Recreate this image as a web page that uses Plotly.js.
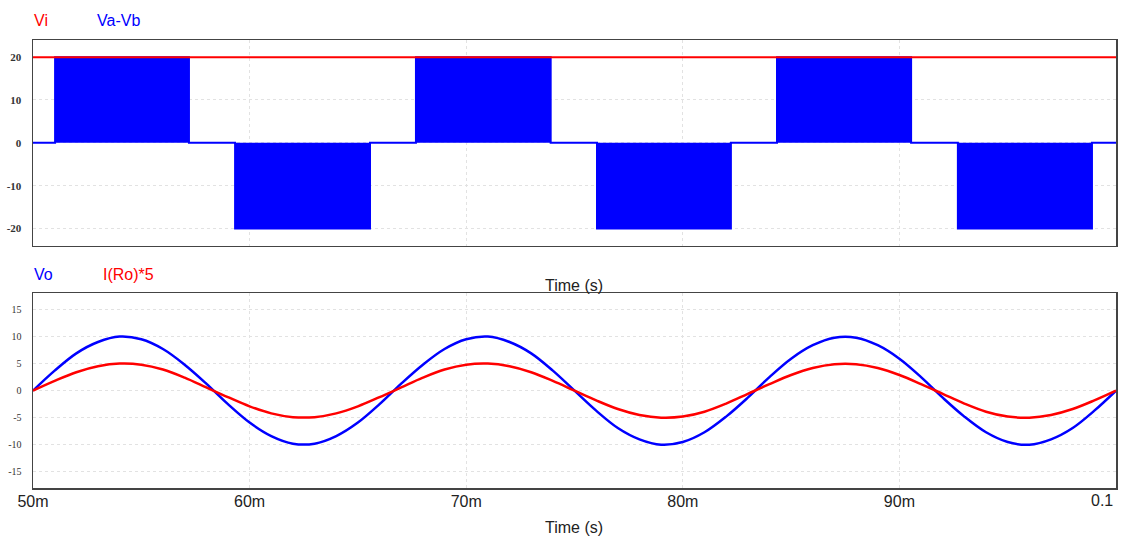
<!DOCTYPE html>
<html>
<head>
<meta charset="utf-8">
<script src="https://cdn.plot.ly/plotly-3.0.1.min.js"></script>
<style>html,body{margin:0;padding:0;background:#fff;}#chart{width:1121px;height:538px;}</style>
</head>
<body>
<div id="chart"></div>
<script>
// ---- Data (times in ms) ----
const viTime = [50, 100];
const viValue = [20, 20];

// Va-Vb PWM blocks: start/end times (ms) and pulse level (V)
const pwmStart = [51.02, 59.33, 67.68, 76.04, 84.35, 92.70];
const pwmEnd   = [57.20, 65.56, 73.90, 82.22, 90.54, 98.89];
const pwmLevel = [20, -20, 20, -20, 20, -20];

// Output waveforms sampled every 1 ms
const outTime = [50,51,52,53,54,55,56,57,58,59,60,61,62,63,64,65,66,67,68,69,70,71,72,73,74,75,
                 76,77,78,79,80,81,82,83,84,85,86,87,88,89,90,91,92,93,94,95,96,97,98,99,100];
const voValue = [0,3.7,6.9,9.0,10.0,9.5,7.7,4.8,1.3,-2.5,-5.9,-8.4,-9.8,-9.8,-8.4,-5.9,-2.5,1.3,4.8,7.7,9.5,10.0,9.0,6.9,3.7,0,
                 -3.7,-6.9,-9.0,-10.0,-9.5,-7.7,-4.8,-1.3,2.5,5.9,8.4,9.8,9.8,8.4,5.9,2.5,-1.3,-4.8,-7.7,-9.5,-10.0,-9.0,-6.9,-3.7,0];
const iroValue = [0,1.8,3.4,4.5,5.0,4.8,3.9,2.4,0.6,-1.2,-2.9,-4.2,-4.9,-4.9,-4.2,-2.9,-1.2,0.6,2.4,3.9,4.8,5.0,4.5,3.4,1.8,0,
                  -1.8,-3.4,-4.5,-5.0,-4.8,-3.9,-2.4,-0.6,1.2,2.9,4.2,4.9,4.9,4.2,2.9,1.2,-0.6,-2.4,-3.9,-4.8,-5.0,-4.5,-3.4,-1.8,0];

const xTickVals = [50, 60, 70, 80, 90, 100];
const xTickText = ['50m', '60m', '70m', '80m', '90m', ''];
const topYTicks = [-20, -10, 0, 10, 20];
const botYTicks = [-15, -10, -5, 0, 5, 10, 15];

// ---- Build PWM trace from blocks ----
const ms = v => v / 1000;
const pwmX = [ms(50)], pwmY = [0];
for (let i = 0; i < pwmStart.length; i++) {
  pwmX.push(ms(pwmStart[i]), ms(pwmStart[i]), ms(pwmEnd[i]), ms(pwmEnd[i]));
  pwmY.push(0, pwmLevel[i], pwmLevel[i], 0);
}
pwmX.push(ms(100)); pwmY.push(0);

const BLUE = '#0000ff', RED = '#ff0000';

const traces = [
  {x: pwmX, y: pwmY, xaxis: 'x2', yaxis: 'y2', type: 'scatter', mode: 'lines',
   fill: 'tozeroy', fillcolor: BLUE, line: {color: BLUE, width: 2}, hoverinfo: 'skip'},
  {x: viTime.map(ms), y: viValue, xaxis: 'x2', yaxis: 'y2', type: 'scatter', mode: 'lines',
   line: {color: RED, width: 2}},
  {x: outTime.map(ms), y: voValue, xaxis: 'x', yaxis: 'y', type: 'scatter', mode: 'lines',
   line: {color: BLUE, width: 2.5, shape: 'spline', smoothing: 1}},
  {x: outTime.map(ms), y: iroValue, xaxis: 'x', yaxis: 'y', type: 'scatter', mode: 'lines',
   line: {color: RED, width: 2.5, shape: 'spline', smoothing: 1}}
];

const gridCol = '#e2e2e2';
const lineCol = '#444444';
const commonX = {
  range: [0.05, 0.1], tickmode: 'array', tickvals: xTickVals.map(ms),
  showgrid: true, gridcolor: gridCol, griddash: 'dot', gridwidth: 1,
  showline: true, mirror: true, linecolor: lineCol, linewidth: 1.5,
  zeroline: false, ticks: '', automargin: false, fixedrange: true
};
const commonY = {
  tickmode: 'array', showgrid: true, gridcolor: gridCol, griddash: 'dot', gridwidth: 1,
  showline: true, mirror: true, linecolor: lineCol, linewidth: 1.5,
  zeroline: false, ticks: '', automargin: false, ticklabelstandoff: 8, fixedrange: true
};

const layout = {
  width: 1121, height: 538,
  margin: {l: 33, r: 5, t: 40, b: 50},
  paper_bgcolor: '#ffffff', plot_bgcolor: '#ffffff',
  showlegend: false,
  font: {family: '"Liberation Sans", Arial, sans-serif', color: '#222'},
  xaxis: Object.assign({}, commonX, {anchor: 'y', ticktext: xTickText, ticklabelstandoff: -2,
    tickfont: {family: '"Liberation Sans", Arial, sans-serif', size: 16, color: '#222'}}),
  yaxis: Object.assign({}, commonY, {domain: [0, 0.4346], range: [-18, 18], anchor: 'x',
    tickvals: botYTicks, ticktext: botYTicks.map(String),
    tickfont: {family: '"Liberation Serif", "Times New Roman", serif', size: 10, color: '#333'}}),
  xaxis2: Object.assign({}, commonX, {anchor: 'y2', showticklabels: false}),
  yaxis2: Object.assign({}, commonY, {domain: [0.541, 1], range: [-24, 24], anchor: 'x2',
    tickvals: topYTicks, ticktext: topYTicks.map(String),
    tickfont: {family: '"Liberation Serif", "Times New Roman", serif', size: 11, color: '#333', weight: 'bold'}}),
  annotations: [
    {text: 'Vi', xref: 'paper', yref: 'paper', x: -0.001, y: 1, yshift: 20, xanchor: 'left', yanchor: 'middle',
     showarrow: false, font: {size: 16, color: RED}},
    {text: 'Va-Vb', xref: 'paper', yref: 'paper', x: 0.057, y: 1, yshift: 20, xanchor: 'left', yanchor: 'middle',
     showarrow: false, font: {size: 16, color: BLUE}},
    {text: 'Vo', xref: 'paper', yref: 'paper', x: -0.001, y: 0.4346, yshift: 19, xanchor: 'left', yanchor: 'middle',
     showarrow: false, font: {size: 16, color: BLUE}},
    {text: 'I(Ro)*5', xref: 'paper', yref: 'paper', x: 0.063, y: 0.4346, yshift: 19, xanchor: 'left', yanchor: 'middle',
     showarrow: false, font: {size: 16, color: RED}},
    {text: 'Time (s)', xref: 'paper', yref: 'paper', x: 0.4995, y: 0.541, yshift: -40, xanchor: 'center', yanchor: 'middle',
     showarrow: false, font: {size: 16, color: '#222'}},
    {text: 'Time (s)', xref: 'paper', yref: 'paper', x: 0.4995, y: 0, yshift: -39, xanchor: 'center', yanchor: 'middle',
     showarrow: false, font: {size: 16, color: '#222'}},
    {text: '0.1', xref: 'x', yref: 'paper', x: 0.1, y: 0, yshift: -12, xshift: -1, xanchor: 'right', yanchor: 'middle',
     showarrow: false, font: {size: 16, color: '#222'}}
  ]
};

Plotly.newPlot('chart', traces, layout, {staticPlot: true, displayModeBar: false});
</script>
</body>
</html>
